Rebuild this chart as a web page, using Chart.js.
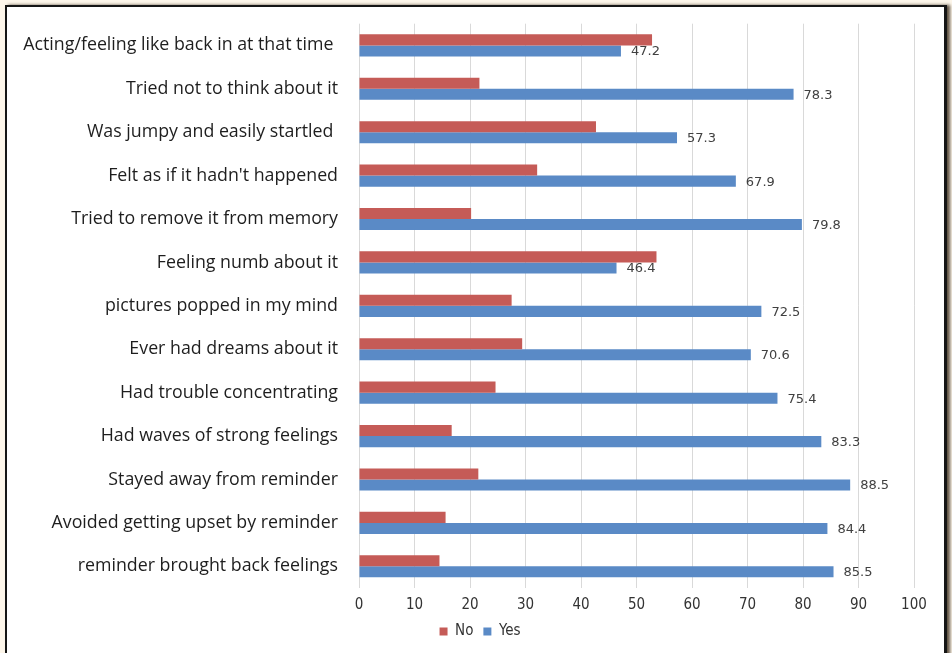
<!DOCTYPE html>
<html>
<head>
<meta charset="utf-8">
<script src="https://cdn.jsdelivr.net/npm/chart.js@4/dist/chart.umd.min.js"></script>
<style>
  html, body { margin: 0; padding: 0; }
  body { width: 952px; height: 653px; background: #fdf6ea; position: relative; overflow: hidden; }
  #frame {
    position: absolute; left: 5px; top: 5px; width: 937px; height: 660px;
    background: #fff; border: 2px solid #151515; border-right-width: 3px; border-bottom: none;
    box-shadow: 3px 0 3px rgba(40, 25, 10, 0.75);
  }
  #chart { position: absolute; left: 0; top: 0; }
</style>
</head>
<body>
<div id="frame"></div>
<canvas id="chart" width="952" height="653"></canvas>
<script>
const categories = [
    'Acting/feeling like back in at that time ',
    'Tried not to think about it',
    'Was jumpy and easily startled ',
    "Felt as if it hadn't happened",
    'Tried to remove it from memory',
    'Feeling numb about it',
    'pictures popped in my mind',
    'Ever had dreams about it',
    'Had trouble concentrating',
    'Had waves of strong feelings',
    'Stayed away from reminder',
    'Avoided getting upset by reminder',
    'reminder brought back feelings'
];
const noValues = [52.8, 21.7, 42.7, 32.1, 20.2, 53.6, 27.5, 29.4, 24.6, 16.7, 21.5, 15.6, 14.5];
const yesValues = [47.2, 78.3, 57.3, 67.9, 79.8, 46.4, 72.5, 70.6, 75.4, 83.3, 88.5, 84.4, 85.5];
const xTicks = [0, 10, 20, 30, 40, 50, 60, 70, 80, 90, 100];

const narrow = '"Liberation Sans Narrow", "DejaVu Sans Condensed", sans-serif';

// value labels at the end of the Yes bars
const yesLabels = {
    id: 'yesLabels',
    afterDatasetsDraw(chart) {
        const ctx = chart.ctx;
        const meta = chart.getDatasetMeta(1);
        ctx.save();
        ctx.font = '13px "DejaVu Sans", sans-serif';
        ctx.fillStyle = '#404040';
        ctx.textAlign = 'left';
        ctx.textBaseline = 'middle';
        meta.data.forEach((bar, i) => {
            ctx.fillText(yesValues[i].toFixed(1), bar.x + 10, bar.y + 1);
        });
        ctx.restore();
    }
};

// nudge the legend a little right of the canvas centre
const legendShift = {
    id: 'legendShift',
    afterLayout(chart) {
        chart.legend.left += 23;
        chart.legend.right += 23;
    }
};

new Chart(document.getElementById('chart'), {
    type: 'bar',
    data: {
        labels: categories,
        datasets: [
            { label: 'No', data: noValues, backgroundColor: '#c55b57', borderWidth: 0 },
            { label: 'Yes', data: yesValues, backgroundColor: '#5a8ac6', borderWidth: 0 }
        ]
    },
    options: {
        indexAxis: 'y',
        responsive: false,
        animation: false,
        devicePixelRatio: 1,
        layout: { padding: { top: 16, right: 38, bottom: 4, left: 0 } },
        datasets: { bar: { barPercentage: 1, categoryPercentage: 0.51 } },
        scales: {
            x: {
                min: 0,
                max: 100,
                afterBuildTicks: axis => { axis.ticks = xTicks.map(v => ({ value: v })); },
                afterFit: axis => { axis.height = 26; },
                grid: { color: '#d9d9d9', drawTicks: false },
                border: { display: false },
                ticks: { color: '#333', padding: 8, font: { family: narrow, size: 15 } }
            },
            y: {
                afterFit: axis => { axis.width = 359; },
                grid: { display: false },
                border: { display: false },
                ticks: { color: '#1e1e1e', padding: 13, font: { family: '"Open Sans", sans-serif', size: 17.8 } }
            }
        },
        plugins: {
            legend: {
                position: 'bottom',
                labels: {
                    boxWidth: 8,
                    boxHeight: 8,
                    padding: 10,
                    color: '#333',
                    font: { family: narrow, size: 15 }
                }
            },
            tooltip: { enabled: false }
        }
    },
    plugins: [yesLabels, legendShift]
});
</script>
</body>
</html>
